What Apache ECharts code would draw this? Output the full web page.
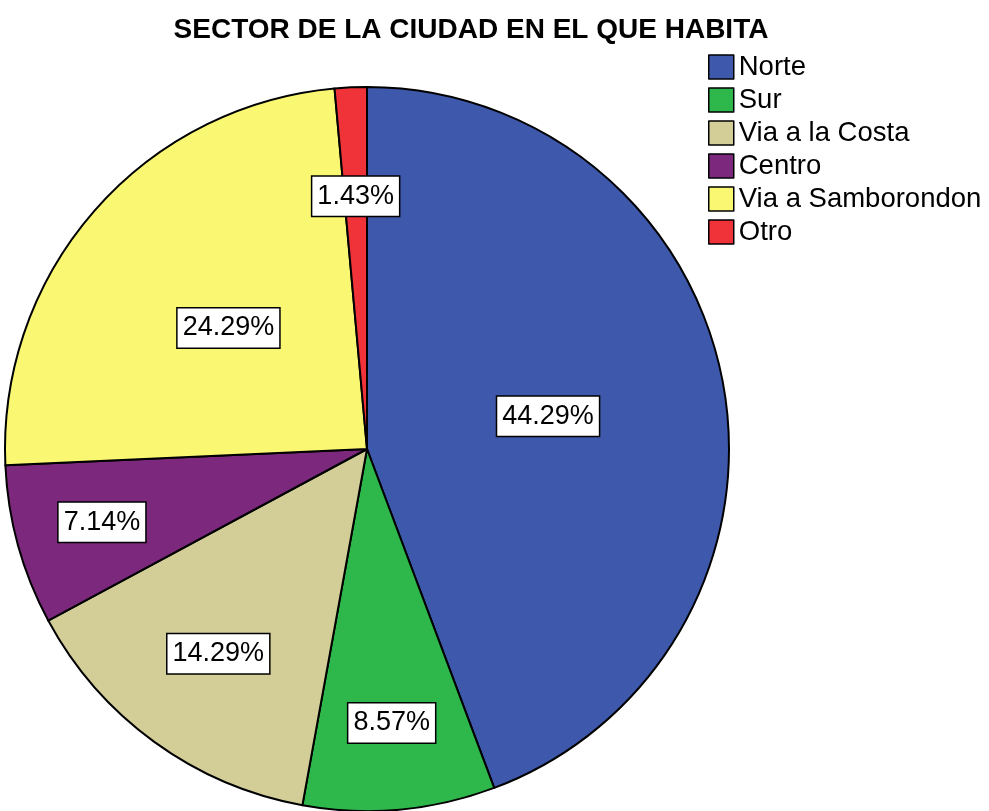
<!DOCTYPE html>
<html>
<head>
<meta charset="utf-8">
<script src="https://cdn.jsdelivr.net/npm/echarts@6/dist/echarts.min.js"></script>
<style>
html,body{margin:0;padding:0;background:#fff;}
#chart{width:989px;height:811px;}
</style>
</head>
<body>
<div id="chart"></div>
<script>
var categories = ['Norte', 'Sur', 'Via a la Costa', 'Centro', 'Via a Samborondon', 'Otro'];
var percents = [44.29, 8.57, 14.29, 7.14, 24.29, 1.43];
var colors = ['#3E58AC', '#2EB84B', '#D3CE97', '#7B287D', '#FAF873', '#EF3339'];

var FONT = '"Liberation Sans", Arial, sans-serif';
var CENTER = [367, 449];
var R = 362;

var labelBox = {
  color: '#000',
  fontFamily: FONT,
  fontSize: 27,
  backgroundColor: '#fff',
  borderColor: '#000',
  borderWidth: 1.5,
  padding: [7, 5, 5, 5],
  formatter: function (p) { return p.value.toFixed(2) + '%'; }
};

function makeData(showSet, withColor) {
  return categories.map(function (c, i) {
    var d = { name: c, value: percents[i] };
    if (withColor) d.itemStyle = { color: colors[i] };
    d.label = { show: showSet.indexOf(c) >= 0 };
    return d;
  });
}

function overlay(r0, names) {
  return {
    type: 'pie',
    center: CENTER,
    radius: [r0, R],
    startAngle: 90,
    clockwise: true,
    silent: true,
    legendHoverLink: false,
    avoidLabelOverlap: false,
    itemStyle: { color: 'rgba(0,0,0,0)', borderWidth: 0 },
    label: Object.assign({ position: 'inside' }, labelBox),
    labelLine: { show: false },
    emphasis: { disabled: true },
    data: makeData(names, false),
    z: 5
  };
}

var chart = echarts.init(document.getElementById('chart'), null, { renderer: 'canvas' });
chart.setOption({
  backgroundColor: '#fff',
  animation: false,
  title: {
    text: 'SECTOR DE LA CIUDAD EN EL QUE HABITA',
    left: 466,
    top: 11,
    textAlign: 'center',
    textStyle: { fontFamily: FONT, fontSize: 28, fontWeight: 'bold', color: '#000' }
  },
  legend: {
    orient: 'vertical',
    left: 708,
    top: 53,
    padding: 0,
    itemWidth: 25,
    itemHeight: 24,
    itemGap: 5,
    icon: 'rect',
    selectedMode: false,
    data: categories,
    itemStyle: { borderColor: '#000', borderWidth: 1.5 },
    textStyle: { fontFamily: FONT, fontSize: 27.5, color: '#000' }
  },
  series: [
    {
      type: 'pie',
      center: CENTER,
      radius: [0, R],
      startAngle: 90,
      clockwise: true,
      avoidLabelOverlap: false,
      itemStyle: { borderColor: '#000', borderWidth: 2 },
      label: Object.assign({ position: 'inside' }, labelBox),
      labelLine: { show: false },
      emphasis: { disabled: true },
      data: makeData(['Norte', 'Via a Samborondon'], true)
    },
    overlay(182, ['Sur', 'Centro']),
    overlay(138, ['Via a la Costa', 'Otro'])
  ]
});
</script>
</body>
</html>
